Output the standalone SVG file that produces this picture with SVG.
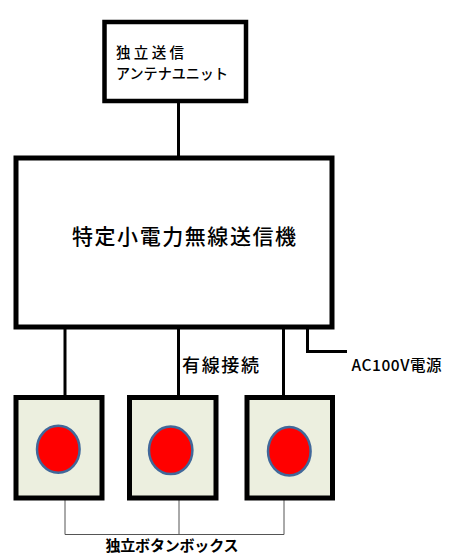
<svg xmlns="http://www.w3.org/2000/svg" width="450" height="558" viewBox="0 0 450 558">
<style>
.box{fill:#fff;stroke:#000}
.btn{fill:#ECEFDF;stroke:#000;stroke-width:5}
.led{fill:#FF0000;stroke:#41689A;stroke-width:2.5}
.thick{stroke:#000;stroke-width:3;fill:none}
.thin{stroke:#555;stroke-width:1;fill:none}
text{font-family:"Noto Sans CJK JP","Liberation Sans",sans-serif;fill:#000}
</style>
<rect width="450" height="558" fill="#fff"/>
<g id="connectors">
<line class="thick" x1="178.5" y1="101" x2="178.5" y2="158"/>
<line class="thick" x1="65" y1="327" x2="65" y2="398"/>
<line class="thick" x1="178.5" y1="327" x2="178.5" y2="398"/>
<line class="thick" x1="283.5" y1="327" x2="283.5" y2="398"/>
<polyline class="thick" points="307.5,327 307.5,351.5 347,351.5"/>
<polyline class="thin" points="65,498 65,534.5 284,534.5 284,498"/>
<line class="thin" x1="179" y1="498" x2="179" y2="534.5"/>
</g>
<g id="antenna">
<rect class="box" x="104.5" y="22" width="141.5" height="79" stroke-width="4.5"/>
<text x="116" y="57.5" font-size="14.5" font-weight="500" textLength="68">独立送信</text>
<text x="116" y="78.5" font-size="14.5" font-weight="500" textLength="112" lengthAdjust="spacingAndGlyphs">アンテナユニット</text>
</g>
<g id="transmitter">
<rect class="box" x="16" y="158" width="316" height="169" stroke-width="5"/>
<text x="72" y="243.5" font-size="21" font-weight="500" textLength="224">特定小電力無線送信機</text>
</g>
<g id="wired-label">
<text x="182" y="372" font-size="18" font-weight="500" textLength="77">有線接続</text>
</g>
<g id="ac-power">
<text x="351.5" y="370.5" font-size="15.5" font-weight="500" textLength="90">AC100V電源</text>
</g>
<g id="button1">
<rect class="btn" x="16" y="397.5" width="86" height="100.5"/>
<ellipse class="led" cx="58.3" cy="449.3" rx="21.3" ry="23.5"/>
</g>
<g id="button2">
<rect class="btn" x="129.5" y="397.5" width="86.5" height="100.5"/>
<ellipse class="led" cx="170.7" cy="450.3" rx="21.7" ry="23.7"/>
</g>
<g id="button3">
<rect class="btn" x="247" y="397.5" width="85.5" height="100.5"/>
<ellipse class="led" cx="289.3" cy="451.3" rx="21.3" ry="24.2"/>
</g>
<g id="button-label">
<text x="105.5" y="550.5" font-size="15" font-weight="bold" textLength="133">独立ボタンボックス</text>
</g>
</svg>
